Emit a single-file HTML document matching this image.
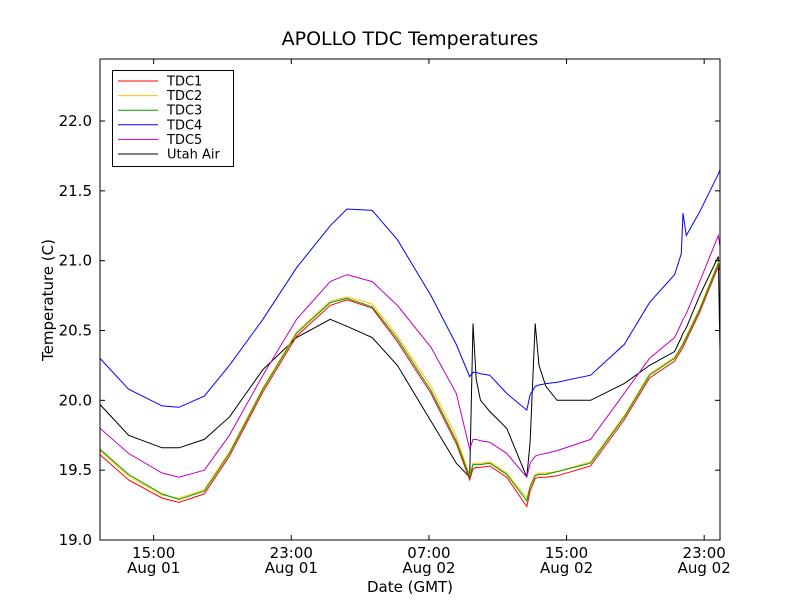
<!DOCTYPE html>
<html><head><meta charset="utf-8"><style>
body{margin:0;background:#fff;}
svg{display:block;font-family:"DejaVu Sans","Liberation Sans",sans-serif;}
</style></head><body>
<svg id="chart" width="800" height="600"></svg>
<script>
const hours=[11.88,13.54,15.49,16.47,17.94,19.40,21.35,23.31,25.26,26.24,27.70,29.17,31.12,32.59,33.37,33.56,33.75,34.0,34.54,35.52,36.69,36.88,37.18,37.4,37.8,38.45,40.40,42.35,43.82,45.28,45.67,45.77,45.96,46.74,47.82,47.92];
const tdc1=[19.61,19.43,19.30,19.27,19.33,19.60,20.06,20.46,20.68,20.72,20.66,20.42,20.05,19.69,19.43,19.51,19.52,19.52,19.53,19.45,19.24,19.35,19.44,19.45,19.45,19.46,19.53,19.86,20.16,20.28,20.36,20.38,20.43,20.63,20.96,20.93];
const tdc2=[19.64,19.46,19.32,19.30,19.36,19.63,20.09,20.49,20.71,20.74,20.69,20.46,20.10,19.74,19.46,19.55,19.55,19.55,19.56,19.48,19.30,19.39,19.47,19.48,19.48,19.49,19.56,19.89,20.19,20.31,20.39,20.41,20.46,20.66,20.99,20.96];
const tdc3=[19.65,19.47,19.33,19.29,19.35,19.62,20.08,20.48,20.70,20.73,20.67,20.44,20.07,19.71,19.45,19.54,19.54,19.54,19.55,19.47,19.28,19.38,19.46,19.47,19.47,19.49,19.55,19.88,20.18,20.30,20.38,20.40,20.45,20.65,20.98,20.95];
const tdc4=[20.30,20.08,19.96,19.95,20.03,20.25,20.58,20.95,21.25,21.37,21.36,21.15,20.75,20.40,20.17,20.20,20.20,20.19,20.18,20.05,19.93,20.04,20.10,20.11,20.12,20.13,20.18,20.40,20.70,20.90,21.05,21.34,21.18,21.35,21.62,21.65];
const tdc5=[19.80,19.62,19.48,19.45,19.50,19.75,20.18,20.58,20.85,20.90,20.85,20.68,20.38,20.05,19.65,19.72,19.72,19.71,19.70,19.62,19.45,19.55,19.60,19.61,19.62,19.64,19.72,20.05,20.30,20.45,20.55,20.58,20.62,20.85,21.18,21.10];
const utah=[19.97,19.75,19.66,19.66,19.72,19.88,20.22,20.45,20.58,20.53,20.45,20.25,19.85,19.55,19.45,20.55,20.15,20.00,19.92,19.80,19.45,19.70,20.55,20.25,20.10,20.00,20.00,20.12,20.25,20.35,20.45,20.48,20.52,20.75,21.03,20.35];
const seriesNames=["TDC1","TDC2","TDC3","TDC4","TDC5","Utah Air"];
const yTicks=[19.0,19.5,20.0,20.5,21.0,21.5,22.0];
const xTicks=[15,23,31,39,47];
const xTime=["15:00","23:00","07:00","15:00","23:00"];
const xDate=["Aug 01","Aug 01","Aug 02","Aug 02","Aug 02"];

const L=100,R=720,T=59,B=540;
const X0=11.88,X1=47.92,Y0=19.0,Y1=22.444;
const xs=h=>L+(h-X0)/(X1-X0)*(R-L);
const ys=v=>B-(v-Y0)/(Y1-Y0)*(B-T);
const svg=document.getElementById('chart');
const NS="http://www.w3.org/2000/svg";
function mk(tag,attrs,parent){const e=document.createElementNS(NS,tag);for(const k in attrs)e.setAttribute(k,attrs[k]);(parent||svg).appendChild(e);return e;}

const colors=["#ff0000","#ffbf00","#00a000","#0000ff","#bf00bf","#000000"];
const data=[tdc1,tdc2,tdc3,tdc4,tdc5,utah];
const order=[5,4,3,0,1,2];
order.forEach(i=>{
  const p=mk('polyline',{points:hours.map((h,j)=>xs(h).toFixed(1)+','+ys(data[i][j]).toFixed(1)).join(' '),fill:'none',stroke:colors[i],'stroke-width':1});
  
  
});

const frame=mk('rect',{x:L,y:T,width:R-L,height:B-T,fill:'none',stroke:'#000','stroke-width':1});



yTicks.forEach(v=>{
  const y=ys(v);
  mk('line',{x1:L,x2:L+5,y1:y,y2:y,stroke:'#000'});
  mk('line',{x1:R,x2:R-5,y1:y,y2:y,stroke:'#000'});
  const t=mk('text',{x:L-8,y:y+5,'text-anchor':'end','font-size':15});
  t.textContent=v.toFixed(1);
  
  
});
xTicks.forEach((h,i)=>{
  const x=xs(h);
  mk('line',{x1:x,x2:x,y1:B,y2:B-5,stroke:'#000'});
  mk('line',{x1:x,x2:x,y1:T,y2:T+5,stroke:'#000'});
  const t=mk('text',{x:x,y:B+18,'text-anchor':'middle','font-size':15});
  t.textContent=xTime[i];
  
  
  const d=mk('text',{x:x,y:B+33,'text-anchor':'middle','font-size':15});
  d.textContent=xDate[i];
  
  
});

const title=mk('text',{x:410,y:45,'text-anchor':'middle','font-size':19});
title.textContent="APOLLO TDC Temperatures";


const xl=mk('text',{x:410,y:592,'text-anchor':'middle','font-size':15});
xl.textContent="Date (GMT)";


const yl=mk('text',{x:0,y:0,'text-anchor':'middle','font-size':15,transform:'translate(53,300) rotate(-90)'});
yl.textContent="Temperature (C)";



const lg=mk('g',{});


mk('rect',{x:112.5,y:70.5,width:121,height:96,fill:'#fff',stroke:'#000'},lg);
seriesNames.forEach((n,i)=>{
  const y=81+i*14.6;
  mk('line',{x1:118,x2:158,y1:y,y2:y,stroke:colors[i]},lg);
  const t=mk('text',{x:167,y:y+4.5,'font-size':13},lg);
  t.textContent=n;
  
  
});
</script>
</body></html>
